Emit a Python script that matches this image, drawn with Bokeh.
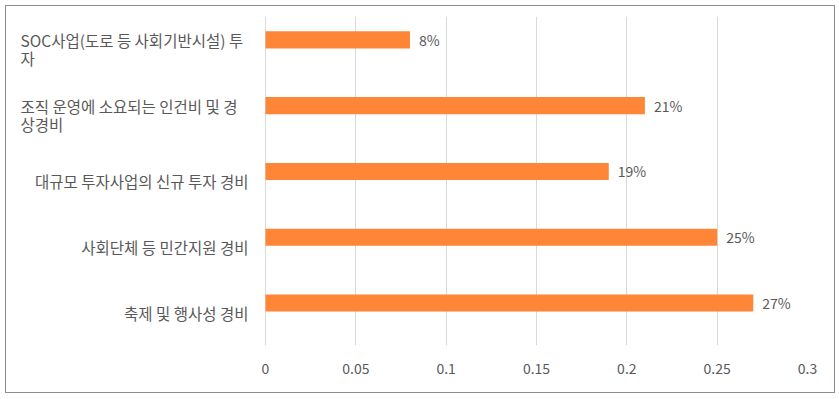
from bokeh.plotting import figure
from bokeh.models import ColumnDataSource, Range1d, FactorRange, FixedTicker, CustomJSTickFormatter
from bokeh.transform import dodge
from bokeh.core.properties import value
from bokeh.embed import file_html
from bokeh.resources import INLINE

categories = [
    "SOC사업(도로 등 사회기반시설) 투\n자",
    "조직 운영에 소요되는 인건비 및 경\n상경비",
    "대규모 투자사업의 신규 투자 경비",
    "사회단체 등 민간지원 경비",
    "축제 및 행사성 경비",
]
values = [0.08, 0.21, 0.19, 0.25, 0.27]
value_labels = ["8%", "21%", "19%", "25%", "27%"]
x_ticks = [0, 0.05, 0.1, 0.15, 0.2, 0.25, 0.3]

FONT = "Noto Sans CJK KR"
TEXT_COLOR = "#595959"
BAR_COLOR = "#FF8636"

# layout: the frame includes the label column on the left of x=0
LABEL_PX = 254      # width of the category label column
DATA_PX = 542       # width of the 0 .. 0.3 data area
x_start = -LABEL_PX * x_ticks[-1] / DATA_PX

source = ColumnDataSource(dict(cat=categories, val=values, lab=value_labels))
single = [c for c in categories if "\n" not in c]
multi = [c for c in categories if "\n" in c]
single_src = ColumnDataSource(dict(cat=single, x=[0] * len(single)))
multi_src = ColumnDataSource(dict(cat=multi, x=[0] * len(multi)))

p = figure(
    width=830, height=388,
    y_range=FactorRange(factors=list(reversed(categories)), range_padding=0),
    x_range=Range1d(x_start, x_ticks[-1]),
    output_backend="svg", toolbar_location=None,
    min_border_left=5, min_border_right=29, min_border_top=10, min_border_bottom=49,
)
p.styles = {"border": "1px solid #8c8c8c", "margin-left": "5px", "margin-top": "5px"}
p.outline_line_color = None
p.background_fill_color = "white"
p.border_fill_color = "white"

p.hbar(y=dodge("cat", 0.145, range=p.y_range), right="val", left=0, height=0.26,
       source=source, fill_color=BAR_COLOR, line_color=None)

p.text(x="val", y=dodge("cat", 0.145, range=p.y_range), text="lab", source=source,
       x_offset=9, text_align="left", text_baseline="middle",
       text_font=value(FONT), text_font_size="14px", text_color=TEXT_COLOR)

# category labels: block right-aligned next to x=0, wrapped lines left-aligned
p.text(x="x", y="cat", text="cat", source=single_src, x_offset=-17,
       text_align="right", text_baseline="middle",
       text_font=value(FONT), text_font_size="15.5px", text_color=TEXT_COLOR,
       text_line_height=0.82)
p.text(x="x", y="cat", text="cat", source=multi_src, x_offset=-245,
       text_align="left", text_baseline="middle",
       text_font=value(FONT), text_font_size="15.5px", text_color=TEXT_COLOR,
       text_line_height=0.82)

p.xaxis.ticker = FixedTicker(ticks=x_ticks)
p.xaxis.formatter = CustomJSTickFormatter(code="return String(Math.round(tick*100)/100);")
p.xaxis.axis_line_color = None
p.xaxis.major_tick_line_color = None
p.xaxis.minor_tick_line_color = None
p.xaxis.major_label_standoff = 11
p.xaxis.major_label_text_font = FONT
p.xaxis.major_label_text_font_size = "14px"
p.xaxis.major_label_text_color = TEXT_COLOR

p.yaxis.visible = False

p.xgrid.grid_line_color = "#d9d9d9"
p.xgrid.ticker = FixedTicker(ticks=x_ticks)
p.ygrid.grid_line_color = None

open("out.html", "w").write(file_html(p, INLINE))
